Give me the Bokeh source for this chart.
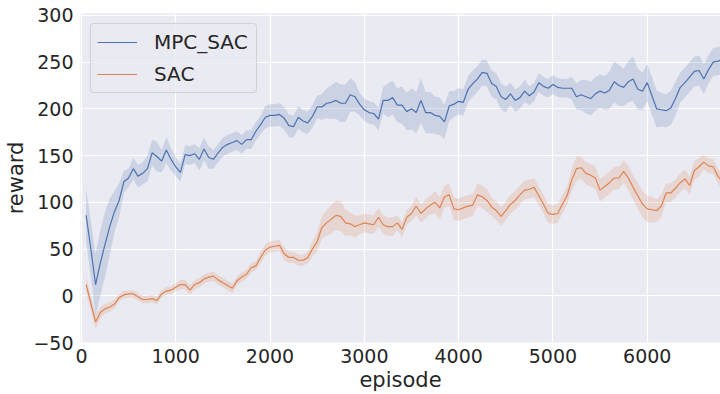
import numpy as np
from bokeh.plotting import figure
from bokeh.models import Range1d, ColumnDataSource, CustomJSTickFormatter, FixedTicker
from bokeh.embed import file_html
from bokeh.resources import INLINE

episodes = list(range(50, 6801, 50))

mpc_sac = [86, 50, 12, 35, 55, 74, 90, 102, 122, 126,
           136, 128, 131, 136, 153, 149, 144, 156, 146, 138,
           132, 151, 150, 152, 146, 157, 148, 146, 153, 159,
           162, 164, 166, 162, 167, 167, 176, 183, 191, 193,
           193, 194, 190, 182, 181, 191, 187, 185, 192, 202,
           202, 206, 207, 209, 206, 206, 215, 213, 205, 199,
           196, 195, 189, 209, 209, 212, 204, 204, 197, 200,
           196, 209, 196, 196, 193, 192, 186, 203, 205, 208,
           207, 221, 227, 232, 239, 238, 227, 224, 213, 210,
           216, 209, 212, 219, 214, 218, 228, 224, 222, 226,
           223, 222, 222, 222, 213, 215, 213, 211, 216, 219,
           217, 220, 229, 225, 223, 229, 232, 221, 219, 228,
           214, 200, 199, 198, 201, 211, 223, 228, 234, 240,
           241, 232, 242, 250, 251, 253]

mpc_err = [28, 30, 33, 35, 35, 30, 22, 18, 12, 10,
           12, 12, 12, 14, 14, 16, 12, 14, 12, 10,
           10, 10, 10, 10, 12, 12, 12, 10, 10, 10,
           10, 10, 10, 10, 10, 10, 10, 10, 12, 12,
           12, 12, 12, 12, 12, 12, 12, 12, 12, 12,
           14, 16, 18, 20, 20, 20, 18, 16, 12, 12,
           12, 12, 12, 14, 18, 18, 18, 20, 20, 22,
           22, 24, 22, 22, 20, 20, 18, 16, 14, 14,
           14, 14, 14, 14, 14, 14, 14, 14, 14, 14,
           12, 12, 12, 12, 10, 10, 10, 10, 10, 10,
           10, 10, 10, 12, 14, 16, 18, 18, 18, 18,
           18, 20, 22, 22, 20, 22, 24, 22, 20, 20,
           20, 20, 18, 18, 18, 18, 16, 16, 16, 16,
           16, 16, 15, 15, 15, 15]

sac = [12, -8, -28, -18, -14, -12, -9, -2, 1, 2,
       2, -1, -4, -4, -3, -5, 2, 5, 6, 9,
       12, 12, 6, 12, 14, 18, 20, 21, 17, 14,
       11, 8, 16, 20, 23, 30, 32, 41, 49, 52,
       53, 54, 45, 41, 41, 38, 38, 41, 50, 58,
       73, 78, 82, 86, 85, 78, 77, 74, 76, 78,
       77, 76, 84, 76, 74, 74, 78, 71, 84, 88,
       96, 88, 93, 97, 100, 94, 106, 108, 93, 92,
       94, 96, 97, 108, 106, 102, 95, 91, 85, 91,
       98, 102, 108, 113, 114, 116, 107, 98, 88, 87,
       88, 98, 107, 124, 136, 137, 131, 129, 126, 113,
       117, 121, 126, 126, 133, 126, 116, 107, 98, 93,
       92, 91, 96, 110, 110, 115, 121, 125, 118, 134,
       138, 143, 139, 138, 128, 122]

sac_err = [8, 8, 8, 6, 5, 5, 5, 4, 4, 4,
           4, 4, 4, 4, 4, 4, 4, 4, 4, 4,
           5, 5, 5, 5, 5, 5, 5, 5, 5, 5,
           5, 5, 5, 5, 5, 5, 5, 6, 6, 6,
           6, 6, 7, 6, 6, 6, 6, 6, 8, 10,
           12, 14, 15, 16, 16, 14, 12, 12, 10, 10,
           10, 10, 10, 10, 10, 10, 8, 8, 8, 8,
           10, 10, 10, 10, 12, 12, 12, 12, 12, 12,
           12, 12, 12, 12, 12, 12, 10, 10, 10, 10,
           10, 10, 10, 10, 10, 10, 10, 10, 10, 10,
           10, 10, 10, 12, 13, 12, 12, 12, 12, 12,
           12, 12, 12, 12, 12, 13, 13, 14, 14, 14,
           14, 12, 12, 10, 10, 10, 10, 10, 10, 10,
           10, 8, 8, 8, 8, 8]

x_ticks = [0, 1000, 2000, 3000, 4000, 5000, 6000]
y_ticks = [-50, 0, 50, 100, 150, 200, 250, 300]

BLUE = "#4C72B0"
ORANGE = "#DD8452"
BG = "#EAEAF2"
TXT = "#262626"
FONT = "DejaVu Sans"

ep = np.array(episodes)
m = np.array(mpc_sac, dtype=float)
me = np.array(mpc_err, dtype=float)
s = np.array(sac, dtype=float)
se = np.array(sac_err, dtype=float)

src = ColumnDataSource(dict(x=ep, m=m, m_lo=m - me, m_hi=m + me,
                            s=s, s_lo=s - se, s_hi=s + se))

p = figure(width=720, height=394, output_backend="svg", toolbar_location=None,
           x_range=Range1d(-10, 6777), y_range=Range1d(-50, 302),
           min_border_left=80, min_border_right=0, min_border_top=13,
           min_border_bottom=10)

p.background_fill_color = BG
p.border_fill_color = "white"
p.outline_line_color = None

p.varea(x="x", y1="m_lo", y2="m_hi", source=src, fill_color=BLUE, fill_alpha=0.2)
p.varea(x="x", y1="s_lo", y2="s_hi", source=src, fill_color=ORANGE, fill_alpha=0.2)
p.line(x="x", y="m", source=src, line_color=BLUE, line_width=1.2, legend_label="MPC_SAC")
p.line(x="x", y="s", source=src, line_color=ORANGE, line_width=1.2, legend_label="SAC")

fmt = CustomJSTickFormatter(code="return tick < 0 ? '\\u2212' + Math.abs(tick) : String(tick);")

for ax in (p.xaxis[0], p.yaxis[0]):
    ax.axis_line_color = None
    ax.major_tick_line_color = None
    ax.minor_tick_line_color = None
    ax.major_tick_in = 0
    ax.major_tick_out = 0
    ax.major_label_text_font = FONT
    ax.major_label_text_font_size = "19px"
    ax.major_label_text_color = TXT
    ax.axis_label_text_font = FONT
    ax.axis_label_text_font_size = "21px"
    ax.axis_label_text_font_style = "normal"
    ax.axis_label_text_color = TXT
    ax.formatter = fmt

p.xaxis[0].ticker = FixedTicker(ticks=x_ticks)
p.yaxis[0].ticker = FixedTicker(ticks=y_ticks)
p.xaxis[0].axis_label = "episode"
p.yaxis[0].axis_label = "reward"
p.xaxis[0].major_label_standoff = 6
p.yaxis[0].major_label_standoff = 7
p.xaxis[0].axis_label_standoff = 2
p.yaxis[0].axis_label_standoff = 2

p.grid.grid_line_color = "white"
p.grid.grid_line_width = 1.2
p.xgrid.ticker = FixedTicker(ticks=x_ticks)
p.ygrid.ticker = FixedTicker(ticks=y_ticks)

lg = p.legend[0]
lg.location = "top_left"
lg.margin = 10
lg.padding = 6
lg.spacing = 8
lg.glyph_width = 40
lg.glyph_height = 22
lg.label_height = 22
lg.label_width = 96
lg.label_standoff = 17
lg.label_text_font = FONT
lg.label_text_font_size = "20px"
lg.label_text_color = TXT
lg.background_fill_color = BG
lg.background_fill_alpha = 0.8
lg.border_line_color = "#cccccc"
lg.border_line_alpha = 0.8
lg.border_line_width = 1
if "border_radius" in lg.properties():
    lg.border_radius = 4

open("out.html", "w").write(file_html(p, INLINE))
